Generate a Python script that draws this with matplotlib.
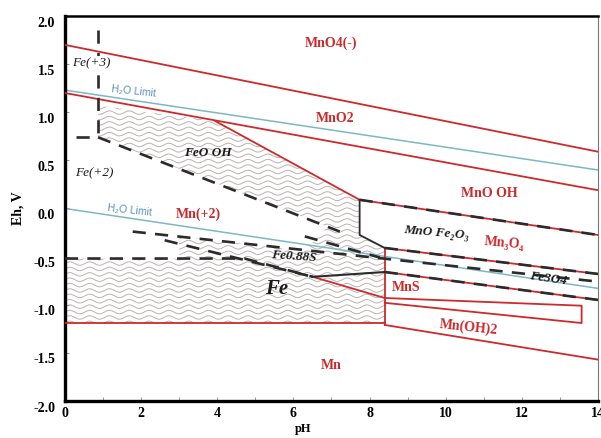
import numpy as np
import matplotlib.pyplot as plt
from matplotlib.patches import Polygon
from matplotlib.transforms import ScaledTranslation

RED = "#cc2a2c"
TEAL = "#7db7c4"
TEAL_TXT = "#5b8fb6"
DARK = "#2b2b2b"
WAVE = "#bcb2b2"
SERIF = ["Liberation Serif", "DejaVu Serif"]

# Mn boundaries (red): pH values, Eh values
mno4_mno2 = ([0, 14], [1.70, 0.59])
mno2_lower = ([0, 14], [1.20, 0.19])
mn2_mno2 = ([3.94, 7.74], [0.91, 0.09])
mnooh_lower = ([7.74, 14], [0.09, -0.275])
mn3o4_lower = ([8.40, 14], [-0.41, -0.68])
mns_upper = ([8.40, 14], [-0.66, -0.95])
ph84_wall = ([8.40, 8.40], [-0.41, -1.21])
mn2_mn = ([0, 8.40], [-1.19, -1.19])
mn2_mns = ([6.51, 8.40], [-0.71, -0.93])
mnoh2_box = ([8.40, 13.57, 13.57, 8.40], [-0.93, -1.01, -1.19, -0.98])
mnoh2_mn = ([8.40, 14], [-1.21, -1.57])

# Fe boundaries (black, dashed)
fe3_fe2_v = ([0.87, 0.87], [1.85, 0.74])
fe3_fe2_h = ([0.30, 0.87], [0.74, 0.74])
fe2_feooh = ([0.87, 7.22], [0.74, -0.24])
feooh_fe3o4 = ([6.30, 8.27], [-0.29, -0.51])
fe_s_upper = ([1.78, 14], [-0.24, -0.76])
fe2_fe = ([0, 4.72, 6.51], [-0.52, -0.52, -0.71])
fe2_fes = ([2.62, 6.51], [-0.33, -0.71])
fes_fe = ([6.51, 8.40], [-0.71, -0.66])
mnfe_wall = ([7.74, 7.74, 8.40], [0.09, -0.275, -0.41])

# water stability limits
h2o_upper = ([0, 14], [1.23, 0.40])
h2o_lower = ([0, 14], [0.0, -0.83])

# outline of the solid Fe phases (wavy fill)
solid_fe_ph = [0.87, 3.94, 7.74, 7.74, 8.40, 8.40, 0, 0, 3.0, 3.0, 6.3, 6.9, 0.87]
solid_fe_eh = [1.07, 0.91, 0.09, -0.275, -0.41, -1.19, -1.19, -0.52, -0.52, -0.29, -0.44, -0.19, 0.74]

xticks = [0, 2, 4, 6, 8, 10, 12, 14]
yticks = [2.0, 1.5, 1.0, 0.5, 0.0, -0.5, -1.0, -1.5, -2.0]

fig = plt.figure(figsize=(6.01, 4.38), dpi=100)
ax = fig.add_axes([0.108, 0.0845, 0.887, 0.879])
ax.set_xlim(0, 14)
ax.set_ylim(-2.0, 2.0)

# wavy fill, clipped to the solid Fe outline
poly = Polygon(np.column_stack([solid_fe_ph, solid_fe_eh]), closed=True, fc="none", ec="none")
ax.add_patch(poly)
xs = np.linspace(0, 14, 1600)
for y0 in np.arange(-1.3, 1.2, 0.056):
    ln, = ax.plot(xs, y0 + 0.018 * np.sin(2 * np.pi * xs / 0.52), color=WAVE, lw=0.7, zorder=1)
    ln.set_clip_path(poly)

for ph, eh in [h2o_upper, h2o_lower]:
    ax.plot(ph, eh, color=TEAL, lw=1.1, zorder=2)

for ph, eh in [mno4_mno2, mno2_lower, mn2_mno2, mnooh_lower, mn3o4_lower, mns_upper,
               ph84_wall, mn2_mn, mn2_mns, mnoh2_mn]:
    ax.plot(ph, eh, color=RED, lw=1.3, zorder=3)
ax.plot(mnoh2_box[0], mnoh2_box[1], color=RED, lw=1.3, zorder=3)

ax.plot(*mnfe_wall, color=DARK, lw=1.3, zorder=4)
ax.plot(*fes_fe, color=DARK, lw=1.5, zorder=4)

for ph, eh in [fe3_fe2_v, fe3_fe2_h, fe2_feooh, feooh_fe3o4, fe_s_upper, fe2_fe, fe2_fes,
               mnooh_lower, mn3o4_lower, mns_upper]:
    ln, = ax.plot(ph, eh, color=DARK, lw=1.9, zorder=4)
    ln.set_dashes((5, 3.5))

# labels
red_kw = dict(color=RED, fontsize=10, fontweight="bold", family=SERIF, ha="center", va="center", zorder=6)
blk_kw = dict(color="#1a1a1a", fontsize=9.5, fontweight="bold", style="italic", family=SERIF,
              ha="center", va="center", zorder=6)
ax.text(7.0, 1.72, "MnO4(-)", **red_kw)
ax.text(7.1, 0.94, "MnO2", **red_kw)
ax.text(11.15, 0.16, "MnO OH", **red_kw)
ax.text(3.5, -0.06, "Mn(+2)", **red_kw)
ax.text(11.55, -0.36, "Mn₃O₄", rotation=-5, **red_kw)
ax.text(8.95, -0.82, "MnS", **red_kw)
ax.text(10.6, -1.23, "Mn(OH)2", rotation=-6, **red_kw)
ax.text(7.0, -1.63, "Mn", **red_kw)

ax.text(9.75, -0.25, "MnO Fe₂O₃", rotation=-5, **blk_kw)
ax.text(12.7, -0.73, "Fe3O4", rotation=-8, **blk_kw)
ax.text(6.0, -0.50, "Fe0.88S", rotation=-4, **blk_kw)
ax.text(3.75, 0.58, "FeO OH", **blk_kw)
ax.text(0.68, 1.51, "Fe(+3)", bbox=dict(fc="white", ec="none", pad=0.5),
        **{**blk_kw, "fontweight": "normal"})
ax.text(0.77, 0.37, "Fe(+2)", **{**blk_kw, "fontweight": "normal"})
ax.text(5.55, -0.84, "Fe", **{**blk_kw, "fontsize": 15})

ax.text(1.8, 1.14, "H₂O Limit", color=TEAL_TXT, fontsize=7.5, family=["Liberation Sans", "DejaVu Sans"],
        rotation=-6, ha="center", va="bottom", zorder=6)
ax.text(1.7, -0.10, "H₂O Limit", color=TEAL_TXT, fontsize=7.5, family=["Liberation Sans", "DejaVu Sans"],
        rotation=-6, ha="center", va="bottom", zorder=6)

# axes styling
ax.set_xticks(xticks)
ax.set_xticks(range(0, 15), minor=True)
ax.set_yticks(yticks)
ax.set_yticklabels([f"{v:.1f}" for v in yticks])
ax.tick_params(which="both", direction="in", length=3, width=0.6, color="#888888")
ax.tick_params(axis="y", pad=7)
ax.tick_params(axis="x", pad=4)
for lab in ax.get_xticklabels() + ax.get_yticklabels():
    lab.set_fontfamily(SERIF)
    lab.set_fontweight("bold")
    lab.set_fontsize(10)
for lab in ax.get_yticklabels():
    lab.set_transform(lab.get_transform() + ScaledTranslation(0, -4 / 72, fig.dpi_scale_trans))

for side in ["left", "bottom"]:
    ax.spines[side].set_linewidth(2.4)
ax.spines["top"].set_linewidth(1.8)
ax.spines["right"].set_linewidth(0.8)
ax.spines["right"].set_color("#777777")

ax.set_ylabel("Eh, V", family=SERIF, fontweight="bold", fontsize=10, labelpad=6)
ax.set_xlabel("pH", family=SERIF, fontweight="bold", fontsize=9)
ax.xaxis.set_label_coords(0.446, -0.058)

fig.savefig("out.png", dpi=100)
